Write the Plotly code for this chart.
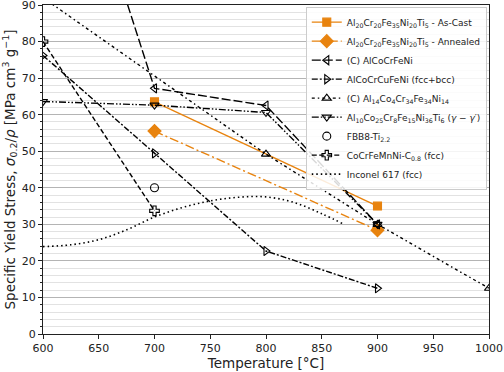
import plotly.graph_objects as go

# ---- data ----
asCast_T = [700, 900]
asCast_S = [63.5, 35.0]

annealed_T = [700, 900]
annealed_S = [55.5, 28.4]

alcocrfeni_T = [600, 700, 800, 900]
alcocrfeni_S = [162.0, 67.2, 62.5, 30.0]

alcocrcufeni_T = [600, 700, 800, 900]
alcocrcufeni_S = [76.2, 49.4, 22.7, 12.5]

al14_T = [600, 800, 900, 1000]
al14_S = [92.0, 49.2, 30.0, 12.5]

al10_T = [600, 700, 800, 900]
al10_S = [63.6, 62.6, 60.6, 30.0]

fbb8_T = [700]
fbb8_S = [40.0]

cocrfemnni_T = [600, 700]
cocrfemnni_S = [80.0, 33.7]

inconel_T = [600, 625, 650, 675, 700, 725, 750, 775, 800, 825, 850, 870]
inconel_S = [23.9, 24.4, 25.8, 28.5, 32.0, 34.6, 36.4, 37.4, 37.5, 36.0, 32.9, 30.0]

x_ticks = [600, 650, 700, 750, 800, 850, 900, 950, 1000]
y_ticks = [0, 10, 20, 30, 40, 50, 60, 70, 80, 90]

ORANGE = "#e8830e"
BLACK = "black"
FONT = "DejaVu Sans"

fig = go.Figure()

def add(name, x, y, color, dash, symbol, msize=7, mode="lines+markers", shape="linear", lw=1.4):
    fig.add_trace(go.Scatter(
        x=x, y=y, name=name, mode=mode,
        line=dict(color=color, dash=dash, width=lw, shape=shape),
        marker=dict(symbol=symbol, size=msize, color=color,
                    line=dict(color=color, width=1.1)),
        cliponaxis=True,
    ))

add("Al<sub>20</sub>Cr<sub>20</sub>Fe<sub>35</sub>Ni<sub>20</sub>Ti<sub>5</sub> - As-Cast",
    asCast_T, asCast_S, ORANGE, "solid", "square", 8)
add("Al<sub>20</sub>Cr<sub>20</sub>Fe<sub>35</sub>Ni<sub>20</sub>Ti<sub>5</sub> - Annealed",
    annealed_T, annealed_S, ORANGE, "9px,3px,2px,3px", "diamond", 10)
add("(C) AlCoCrFeNi", alcocrfeni_T, alcocrfeni_S, BLACK, "9px,3px", "triangle-left-open", 8)
add("AlCoCrCuFeNi (fcc+bcc)", alcocrcufeni_T, alcocrcufeni_S, BLACK, "6px,2px,2px,2px", "triangle-right-open", 8)
add("(C) Al<sub>14</sub>Co<sub>4</sub>Cr<sub>34</sub>Fe<sub>34</sub>Ni<sub>14</sub>",
    al14_T, al14_S, BLACK, "3px,3px,1.5px,3px", "triangle-up-open", 8)
add("Al<sub>10</sub>Co<sub>25</sub>Cr<sub>8</sub>Fe<sub>15</sub>Ni<sub>36</sub>Ti<sub>6</sub> (<i>γ</i> − <i>γ</i>′)",
    al10_T, al10_S, BLACK, "7px,2px,1.5px,2px,1.5px,2px", "triangle-down-open", 8)
add("FBB8-Ti<sub>2.2</sub>", fbb8_T, fbb8_S, BLACK, "solid", "circle-open", 8, mode="markers")
add("CoCrFeMnNi-C<sub>0.8</sub> (fcc)", cocrfemnni_T, cocrfemnni_S, BLACK, "5px,2.5px", "cross-open", 8)
add("Inconel 617 (fcc)", inconel_T, inconel_S, BLACK, "1.5px,3px", "circle", 6, mode="lines", shape="spline", lw=1.6)

fig.update_layout(
    width=504, height=372,
    margin=dict(l=43, r=15, t=5, b=38, autoexpand=False),
    paper_bgcolor="white", plot_bgcolor="white",
    font=dict(family=FONT, size=11, color="#222"),
    showlegend=True,
    legend=dict(
        x=0.995, y=0.995, xanchor="right", yanchor="top",
        bgcolor="rgba(255,255,255,0.85)", bordercolor="#cccccc", borderwidth=1,
        font=dict(family=FONT, size=9, color="#222"),
        itemwidth=30, tracegroupgap=0,
    ),
    xaxis=dict(
        range=[600, 1000], tickvals=x_ticks, automargin=False, ticklabeloverflow="allow",
        showgrid=False, zeroline=False,
        showline=True, linecolor="#222", linewidth=1, mirror=True,
        ticks="outside", ticklen=4, tickcolor="#222",
        tickfont=dict(family=FONT, size=11, color="#222"),
        title=dict(text="Temperature [°C]", font=dict(family=FONT, size=13.5, color="#222"), standoff=2),
    ),
    yaxis=dict(
        range=[0, 90], tickvals=y_ticks, automargin=False, ticklabeloverflow="allow",
        showgrid=True, gridcolor="#b4b4b4", gridwidth=1,
        zeroline=False,
        showline=True, linecolor="#222", linewidth=1, mirror=True,
        ticks="outside", ticklen=4, tickcolor="#222",
        tickfont=dict(family=FONT, size=11, color="#222"),
        minor=dict(dtick=2, showgrid=True, gridcolor="#e2e2e2", gridwidth=1,
                   ticks="outside", ticklen=2, tickcolor="#222"),
        title=dict(text="Specific Yield Stress, <i>σ</i><sub>0.2</sub>/<i>ρ</i> [MPa cm<sup>3</sup> g<sup>−1</sup>]",
                   font=dict(family=FONT, size=13.5, color="#222"), standoff=4),
    ),
)

fig.write_html("out.html", config={"displayModeBar": False},
               post_script="document.body.style.margin='0px';document.body.style.overflow='hidden';")
